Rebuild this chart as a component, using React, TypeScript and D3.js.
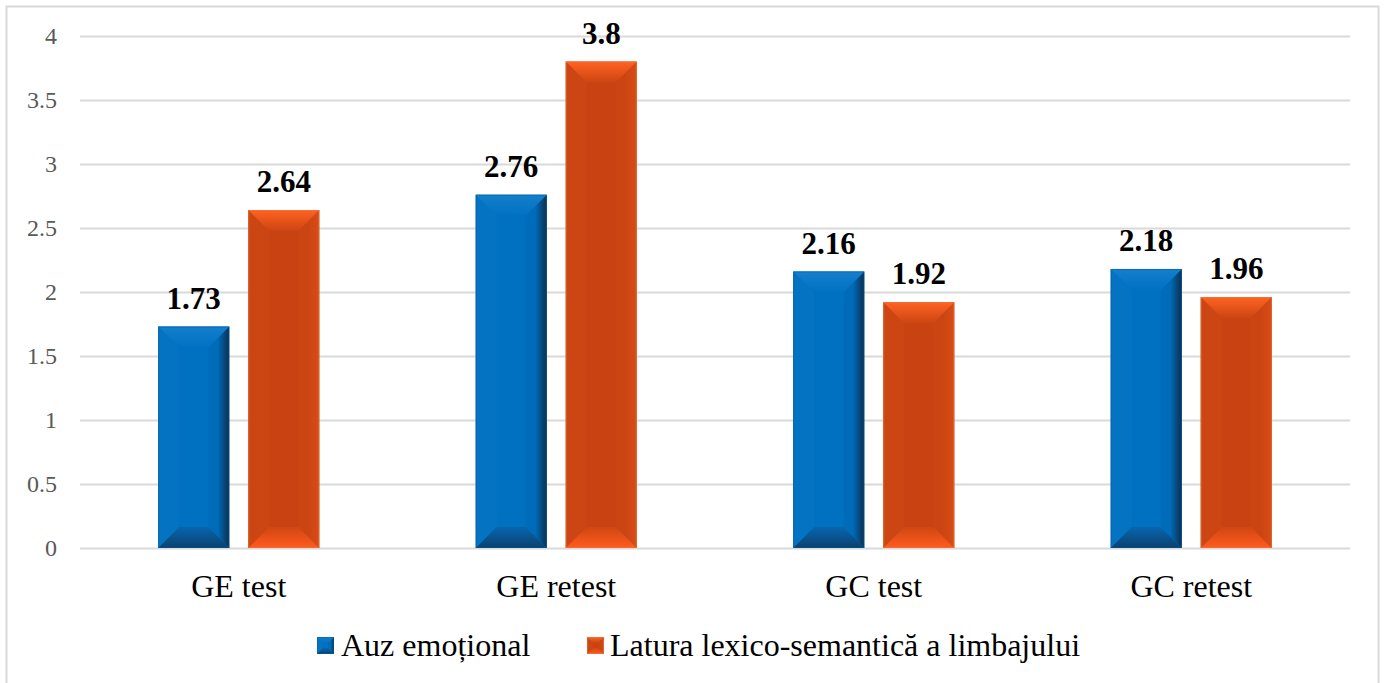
import React from "react";
import * as d3 from "d3";

const categories = ["GE test", "GE retest", "GC test", "GC retest"];
const seriesNames = ["Auz emoțional", "Latura lexico-semantică a limbajului"];
const auzValues = [1.73, 2.76, 2.16, 2.18];
const laturaValues = [2.64, 3.8, 1.92, 1.96];
const valueLabels = [
  ["1.73", "2.76", "2.16", "2.18"],
  ["2.64", "3.8", "1.92", "1.96"],
];
const yTicks = [0, 0.5, 1, 1.5, 2, 2.5, 3, 3.5, 4];

const W = 1385;
const H = 683;
const FONT = '"Liberation Serif", "Times New Roman", Tinos, serif';

type Pal = {
  main: string;
  top0: string;
  top1: string;
  left: string;
  right0: string;
  right1: string;
  bot0: string;
  bot1: string;
  stroke: string;
};

const palettes: Pal[] = [
  {
    main: "#0070C0",
    top0: "#147FCD",
    top1: "#0071C1",
    left: "#0373C2",
    right0: "#006CB9",
    right1: "#0B2F50",
    bot0: "#0866AE",
    bot1: "#0A416F",
    stroke: "#0A5A9A",
  },
  {
    main: "#C84311",
    top0: "#FF6322",
    top1: "#CC4512",
    left: "#CC4613",
    right0: "#CB4512",
    right1: "#D84C16",
    bot0: "#CF4713",
    bot1: "#FF5B1E",
    stroke: "#F07A48",
  },
];

function Bevel({ x, y, w, h, d, pi, id }: { x: number; y: number; w: number; h: number; d: number; pi: number; id: string }) {
  const p = palettes[pi];
  const x0 = x, x1 = x + w, y0 = y, y1 = y + h;
  const dd = Math.min(d, h / 2, w / 2);
  const pts = (a: number[][]) => a.map((q) => q.join(",")).join(" ");
  return (
    <g>
      <defs>
        <linearGradient id={`t${id}`} x1="0" y1="0" x2="0" y2="1">
          <stop offset="0" stopColor={p.top0} />
          <stop offset="1" stopColor={p.top1} />
        </linearGradient>
        <linearGradient id={`b${id}`} x1="0" y1="0" x2="0" y2="1">
          <stop offset="0" stopColor={p.bot0} />
          <stop offset="1" stopColor={p.bot1} />
        </linearGradient>
        <linearGradient id={`r${id}`} x1="0" y1="0" x2="1" y2="0">
          <stop offset="0" stopColor={p.right0} />
          <stop offset="0.45" stopColor={p.right0} />
          <stop offset="1" stopColor={p.right1} />
        </linearGradient>
      </defs>
      <rect x={x0} y={y0} width={w} height={h} fill={p.main} />
      <polygon points={pts([[x0, y0], [x0 + dd, y0 + dd], [x0 + dd, y1 - dd], [x0, y1]])} fill={p.left} />
      <polygon points={pts([[x1, y0], [x1 - dd, y0 + dd], [x1 - dd, y1 - dd], [x1, y1]])} fill={`url(#r${id})`} />
      <polygon points={pts([[x0, y0], [x1, y0], [x1 - dd, y0 + dd], [x0 + dd, y0 + dd]])} fill={`url(#t${id})`} />
      <polygon points={pts([[x0, y1], [x1, y1], [x1 - dd, y1 - dd], [x0 + dd, y1 - dd]])} fill={`url(#b${id})`} />
      <rect x={x0 + 0.5} y={y0 + 0.5} width={w - 1} height={h - 1} fill="none" stroke={p.stroke} strokeWidth={1} strokeOpacity={0.5} />
    </g>
  );
}

export default function App() {
  const left = 80, right = 1350, top = 36, bottom = 548;
  const x0 = d3.scaleBand<string>().domain(categories).range([left, right]).padding(0);
  const x1 = d3
    .scaleBand<string>()
    .domain(seriesNames)
    .range([0, x0.bandwidth()])
    .paddingInner(0.211)
    .paddingOuter(0.869);
  const y = d3.scaleLinear().domain([0, 4]).range([bottom, top]);
  const series = [auzValues, laturaValues];

  return (
    <svg width={W} height={H} style={{ position: "absolute", left: 0, top: 0, background: "#fff", fontFamily: FONT }}>
      <rect x={6.5} y={6.5} width={1372} height={690} fill="#fff" stroke="#D9D9D9" strokeWidth={2} />
      {yTicks.map((t) => (
        <g key={t}>
          <line x1={left} x2={right} y1={Math.round(y(t)) + 0.5} y2={Math.round(y(t)) + 0.5} stroke="#D9D9D9" strokeWidth={2} />
          <text x={57} y={y(t) + 8} textAnchor="end" style={{ fontFamily: FONT }} fontSize={24} fill="#595959">
            {d3.format("")(t)}
          </text>
        </g>
      ))}
      {categories.map((c, ci) =>
        series.map((vals, si) => {
          const bx = (x0(c) as number) + (x1(seriesNames[si]) as number);
          const bw = x1.bandwidth();
          const by = y(vals[ci]);
          return (
            <g key={`${c}-${si}`}>
              <Bevel x={bx} y={by} w={bw} h={bottom - by} d={21} pi={si} id={`${ci}_${si}`} />
              <text x={bx + bw / 2} y={by - 18} textAnchor="middle" style={{ fontFamily: FONT }} fontWeight="bold" fontSize={31} fill="#000">
                {valueLabels[si][ci]}
              </text>
            </g>
          );
        })
      )}
      {categories.map((c) => (
        <text key={c} x={(x0(c) as number) + x0.bandwidth() / 2} y={597} textAnchor="middle" style={{ fontFamily: FONT }} fontSize={32} fill="#000">
          {c}
        </text>
      ))}
      {[
        { sx: 317, tx: 341 },
        { sx: 587, tx: 610 },
      ].map((l, i) => (
        <g key={i}>
          <Bevel x={l.sx} y={637} w={17} h={17} d={6} pi={i} id={`leg${i}`} />
          <text x={l.tx} y={656} style={{ fontFamily: FONT }} fontSize={32} fill="#000">
            {seriesNames[i]}
          </text>
        </g>
      ))}
    </svg>
  );
}
